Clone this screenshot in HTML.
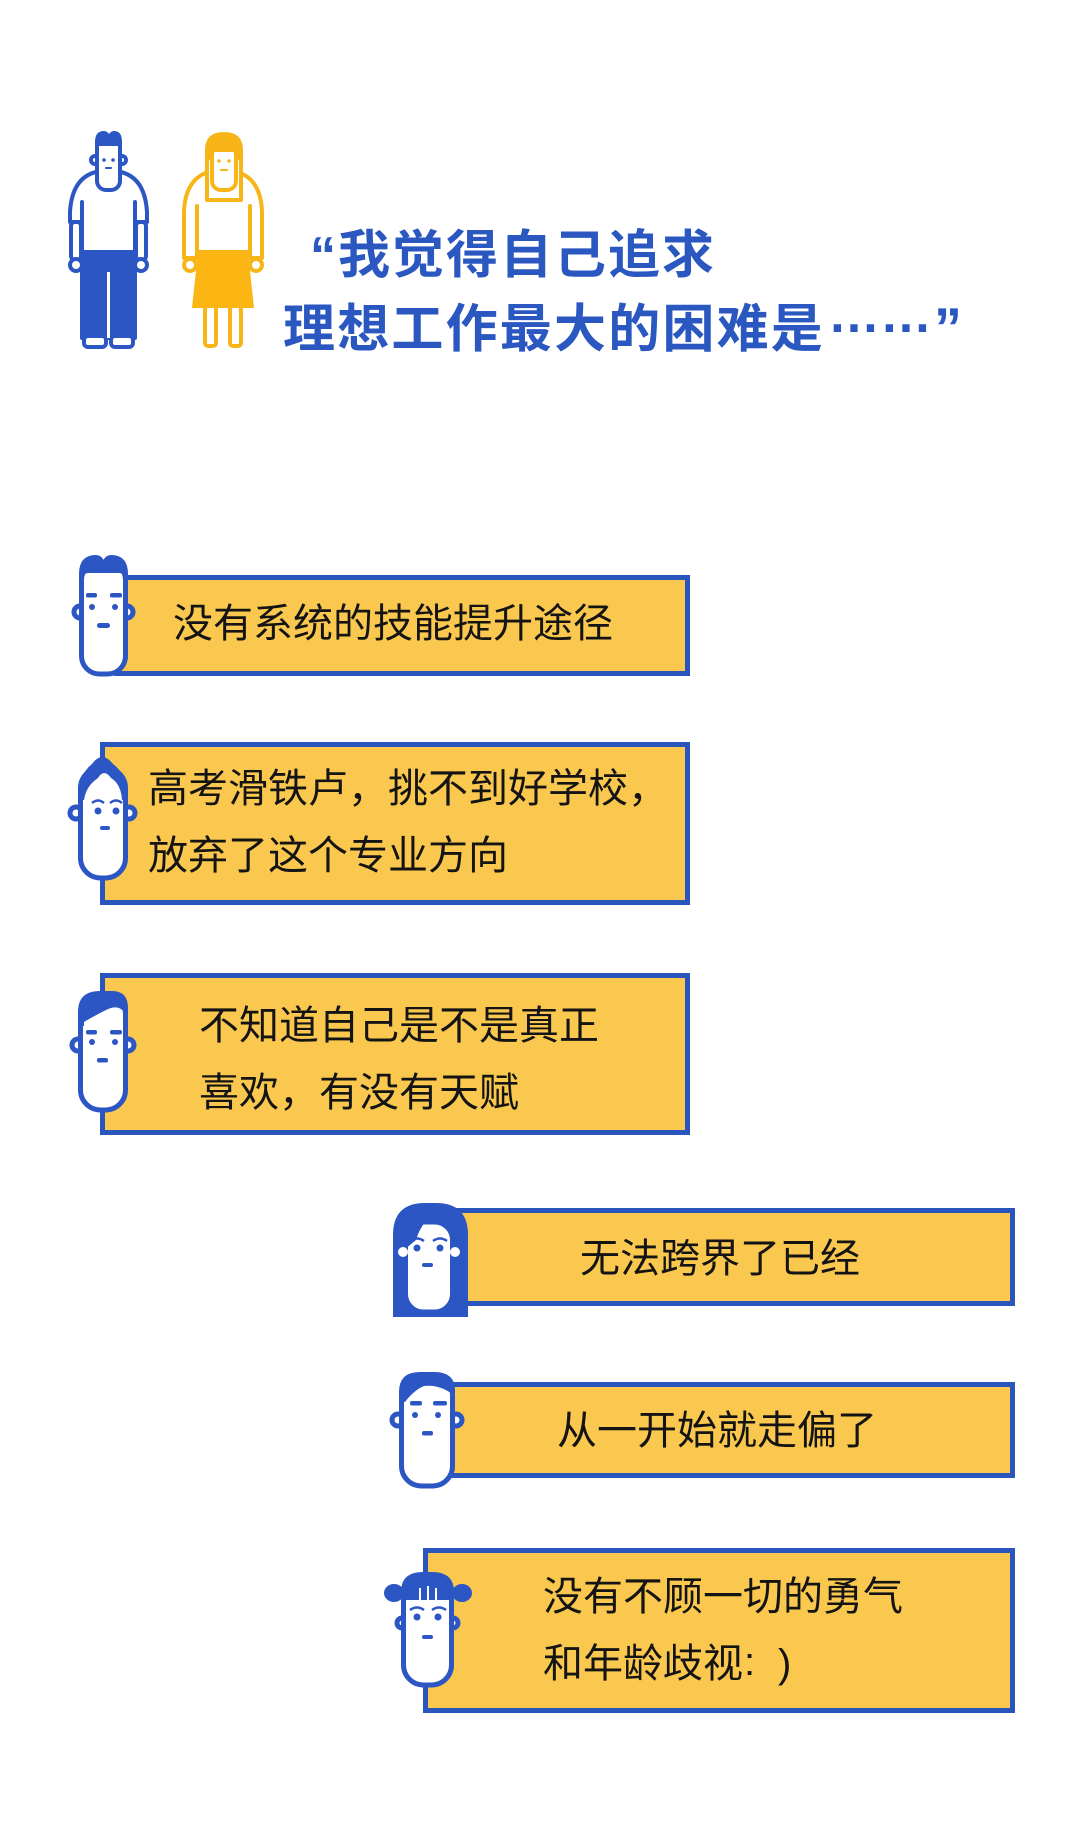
<!DOCTYPE html>
<html>
<head>
<meta charset="utf-8">
<style>
  html,body{margin:0;padding:0;background:#ffffff;}
  svg{display:block;}
  .t{font-family:"Liberation Sans","Noto Sans CJK SC",sans-serif;}
  .c{font-family:"Noto Sans CJK SC","Liberation Sans",sans-serif;}
</style>
</head>
<body>
<svg width="1080" height="1848" viewBox="0 0 1080 1848" xmlns="http://www.w3.org/2000/svg">
  <rect x="0" y="0" width="1080" height="1848" fill="#ffffff"/>

  <!-- ===== Man figure ===== -->
  <g stroke="#2B56C3" stroke-width="4" stroke-linejoin="round" stroke-linecap="round">
    <path d="M96,172 Q72,178 70,212 L70,222 L82,222 L82,252 L135,252 L135,222 L147,222 L147,212 Q145,178 121,172 Z" fill="#fff"/>
    <line x1="82" y1="202" x2="82" y2="222"/>
    <line x1="135" y1="202" x2="135" y2="222"/>
    <rect x="71" y="222" width="10" height="38" rx="4" fill="#fff"/>
    <rect x="136" y="222" width="10" height="38" rx="4" fill="#fff"/>
    <circle cx="76" cy="265" r="6" fill="#fff"/>
    <circle cx="141" cy="265" r="6" fill="#fff"/>
    <rect x="82" y="252" width="53" height="86" fill="#2B56C3"/>
    <rect x="84" y="336" width="22" height="11" rx="4" fill="#fff"/>
    <rect x="111" y="336" width="22" height="11" rx="4" fill="#fff"/>
    <circle cx="95" cy="160" r="4" fill="#fff"/>
    <circle cx="122" cy="160" r="4" fill="#fff"/>
    <rect x="97" y="138" width="23" height="52" rx="9" fill="#fff"/>
  </g>
  <line x1="108.5" y1="272" x2="108.5" y2="338" stroke="#fff" stroke-width="3"/>
  <path d="M95,152 L95,142 Q95,131 104,131 Q107,131 109,134 Q111,131 114,131 Q122,131 122,142 L122,152 L119,152 L119,146 L98,146 L98,152 Z" fill="#2B56C3"/>
  <circle cx="104" cy="160" r="1.8" fill="#2B56C3"/>
  <circle cx="113" cy="160" r="1.8" fill="#2B56C3"/>
  <line x1="106" y1="168" x2="111" y2="168" stroke="#2B56C3" stroke-width="2" stroke-linecap="round"/>

  <!-- ===== Woman figure ===== -->
  <g stroke="#F7B518" stroke-width="4" stroke-linejoin="round" stroke-linecap="round">
    <path d="M208,172 Q185,180 184,212 L184,258 L197,258 L197,252 L250,252 L250,258 L262,258 L262,212 Q261,180 238,172 Z" fill="#fff"/>
    <line x1="197" y1="206" x2="197" y2="252"/>
    <line x1="250" y1="206" x2="250" y2="252"/>
    <circle cx="190" cy="265" r="6" fill="#fff"/>
    <circle cx="256" cy="265" r="6" fill="#fff"/>
    <rect x="205" y="306" width="11" height="40" rx="3" fill="#fff"/>
    <rect x="230" y="306" width="11" height="40" rx="3" fill="#fff"/>
    <path d="M207,200 L207,150 Q207,134 224,134 Q241,134 241,150 L241,200 Z" fill="#fff"/>
    <rect x="212" y="146" width="24" height="44" rx="9" fill="#fff"/>
  </g>
  <path d="M198,252 L248,252 L254,308 L192,308 Z" fill="#FBB614"/>
  <path d="M207,160 L207,150 Q207,134 224,134 Q241,134 241,150 L241,160 L236,160 L236,152 L212,152 L212,160 Z" fill="#F7B518"/>
  <circle cx="219" cy="161" r="1.8" fill="#F7B518"/>
  <circle cx="229" cy="161" r="1.8" fill="#F7B518"/>
  <line x1="221" y1="170" x2="227" y2="170" stroke="#F7B518" stroke-width="2" stroke-linecap="round"/>

  <!-- ===== Title ===== -->
  <text class="t" x="310" y="273" font-size="52" font-weight="bold" fill="#2B57C0" letter-spacing="2">“我觉得自己追求</text>
  <text class="t" x="283" y="347" font-size="52" font-weight="bold" fill="#2B57C0" letter-spacing="2.2">理想工作最大的困难是</text>
  <text class="t" x="828" y="332" font-size="52" font-weight="bold" fill="#2B57C0">……</text>
  <text class="t" x="934" y="347" font-size="56" font-weight="bold" fill="#2B57C0">”</text>

  <!-- ===== Bubble boxes ===== -->
  <g fill="#FAC84E" stroke="#2A55BC" stroke-width="5">
    <rect x="116.5" y="577.5" width="571" height="96"/>
    <rect x="102.5" y="744.5" width="585" height="158"/>
    <rect x="102.5" y="975.5" width="585" height="157"/>
    <rect x="450.5" y="1210.5" width="562" height="93"/>
    <rect x="450.5" y="1384.5" width="562" height="91"/>
    <rect x="425.5" y="1550.5" width="587" height="160"/>
  </g>

  <!-- ===== Bubble texts ===== -->
  <g class="t" font-size="40" fill="#141414">
    <text x="173" y="637">没有系统的技能提升途径</text>
    <text x="148" y="802">高考滑铁卢，挑不到好学校，</text>
    <text x="148" y="869">放弃了这个专业方向</text>
    <text x="199" y="1039">不知道自己是不是真正</text>
    <text x="199" y="1106">喜欢，有没有天赋</text>
    <text x="580" y="1272">无法跨界了已经</text>
    <text x="557" y="1444">从一开始就走偏了</text>
    <text x="543" y="1610">没有不顾一切的勇气</text>
    <text x="543" y="1677">和年龄歧视</text>
    <text x="744" y="1675">:</text>
    <text x="778" y="1677">)</text>
  </g>

  <!-- ===== Face 1 (tuft hair man) ===== -->
  <g stroke="#2B56C3" stroke-width="5">
    <circle cx="80" cy="612" r="6" fill="#fff"/>
    <circle cx="127" cy="612" r="6" fill="#fff"/>
    <rect x="81.5" y="562" width="44" height="112" rx="18" fill="#fff"/>
  </g>
  <path d="M79,590 L79,574 Q79,555 96,555 Q101,555 103.5,560 Q106,555 111,555 Q128,555 128,574 L128,590 L124,590 L124,578 Q124,573 119,573 L88,573 Q84,573 84,578 L84,590 Z" fill="#2B56C3"/>
  <g fill="#2B56C3">
    <rect x="86" y="593" width="11" height="4.5" rx="2"/>
    <rect x="110" y="593" width="12" height="4.5" rx="2"/>
    <circle cx="92" cy="607" r="3"/>
    <circle cx="115" cy="607" r="3"/>
    <rect x="97" y="623" width="13" height="5" rx="2.5"/>
  </g>

  <!-- ===== Face 2 (topknot) ===== -->
  <g stroke="#2B56C3" stroke-width="5">
    <circle cx="76" cy="813" r="6" fill="#fff"/>
    <circle cx="129" cy="813" r="6" fill="#fff"/>
    <rect x="80.5" y="768" width="45" height="110" rx="20" fill="#fff"/>
  </g>
  <path d="M78,800 Q78,775 92,764 Q102,750 113,764 Q128,775 128,800 L122,800 Q121,784 111,778 Q104,768 98,778 Q86,786 84,800 Z" fill="#2B56C3"/>
  <path d="M100,760 Q104,756 106,762 L104,770 Z" fill="#2B56C3"/>
  <g fill="#2B56C3">
    <path d="M92,803 Q98,798 104,803" stroke="#2B56C3" stroke-width="2.5" fill="none"/>
    <path d="M110,803 Q116,798 122,803" stroke="#2B56C3" stroke-width="2.5" fill="none"/>
    <circle cx="98" cy="811" r="3.5"/>
    <circle cx="116" cy="811" r="3.5"/>
    <rect x="100" y="826" width="10" height="4" rx="2"/>
  </g>

  <!-- ===== Face 3 (side swept) ===== -->
  <g stroke="#2B56C3" stroke-width="5">
    <circle cx="78" cy="1045" r="6" fill="#fff"/>
    <circle cx="128" cy="1045" r="6" fill="#fff"/>
    <rect x="80.5" y="994" width="45" height="116" rx="20" fill="#fff"/>
  </g>
  <path d="M78,1026 L78,1012 Q78,991 100,991 L112,991 Q128,991 128,1008 L128,1026 L124,1026 L124,1012 Q118,1004 106,1010 Q94,1016 84,1022 L84,1026 Z" fill="#2B56C3"/>
  <g fill="#2B56C3">
    <rect x="86" y="1030" width="11" height="4.5" rx="2"/>
    <rect x="110" y="1030" width="12" height="4.5" rx="2"/>
    <circle cx="92" cy="1042" r="3"/>
    <circle cx="115" cy="1042" r="3"/>
    <rect x="97" y="1058" width="11" height="4.5" rx="2"/>
  </g>

  <!-- ===== Face 4 (long hair woman) ===== -->
  <path d="M393,1317 L393,1235 Q393,1203 425,1203 L436,1203 Q468,1203 468,1235 L468,1317 Z" fill="#2B56C3"/>
  <g stroke="#2B56C3" stroke-width="5">
    <rect x="405.5" y="1222" width="47" height="90" rx="18" fill="#fff"/>
  </g>
  <path d="M404,1250 L404,1236 Q410,1218 432,1214 Q420,1226 416,1240 Z" fill="#2B56C3"/>
  <circle cx="403" cy="1252" r="5" fill="#fff"/>
  <circle cx="455" cy="1252" r="5" fill="#fff"/>
  <g fill="#2B56C3">
    <path d="M410,1241 Q417,1236 424,1241" stroke="#2B56C3" stroke-width="2.5" fill="none"/>
    <path d="M433,1241 Q440,1236 447,1241" stroke="#2B56C3" stroke-width="2.5" fill="none"/>
    <circle cx="417" cy="1248" r="3.5"/>
    <circle cx="440" cy="1248" r="3.5"/>
    <rect x="422" y="1263" width="11" height="4" rx="2"/>
  </g>

  <!-- ===== Face 5 ===== -->
  <g stroke="#2B56C3" stroke-width="5">
    <circle cx="398" cy="1420" r="6" fill="#fff"/>
    <circle cx="456" cy="1420" r="6" fill="#fff"/>
    <rect x="401.5" y="1375" width="51" height="111" rx="20" fill="#fff"/>
  </g>
  <path d="M399,1402 L399,1392 Q399,1372 420,1372 L434,1372 Q455,1372 455,1390 L455,1396 Q440,1384 424,1386 Q414,1390 405,1402 Z" fill="#2B56C3"/>
  <g fill="#2B56C3">
    <rect x="410" y="1401" width="12" height="4.5" rx="2"/>
    <rect x="433" y="1401" width="14" height="4.5" rx="2"/>
    <circle cx="415" cy="1415" r="3"/>
    <circle cx="438" cy="1415" r="3"/>
    <rect x="422" y="1431" width="11" height="4.5" rx="2"/>
  </g>

  <!-- ===== Face 6 (pigtail puffs) ===== -->
  <ellipse cx="394" cy="1593" rx="10" ry="9" fill="#2B56C3"/>
  <ellipse cx="462" cy="1593" rx="10" ry="9" fill="#2B56C3"/>
  <g stroke="#2B56C3" stroke-width="5">
    <circle cx="402" cy="1623" r="5" fill="#fff"/>
    <circle cx="453" cy="1623" r="5" fill="#fff"/>
    <rect x="403.5" y="1575" width="48" height="110" rx="20" fill="#fff"/>
  </g>
  <path d="M401,1600 L401,1592 Q401,1572 423,1572 L432,1572 Q454,1572 454,1592 L454,1600 Z" fill="#2B56C3"/>
  <g stroke="#fff" stroke-width="2">
    <line x1="420" y1="1588" x2="420" y2="1600"/>
    <line x1="428" y1="1586" x2="428" y2="1600"/>
    <line x1="436" y1="1588" x2="436" y2="1600"/>
  </g>
  <g fill="#2B56C3">
    <path d="M410,1610 Q417,1605 424,1610" stroke="#2B56C3" stroke-width="2.5" fill="none"/>
    <path d="M432,1610 Q439,1605 446,1610" stroke="#2B56C3" stroke-width="2.5" fill="none"/>
    <circle cx="417" cy="1617" r="3.5"/>
    <circle cx="438" cy="1617" r="3.5"/>
    <rect x="422" y="1635" width="11" height="4" rx="2"/>
  </g>
</svg>
</body>
</html>
